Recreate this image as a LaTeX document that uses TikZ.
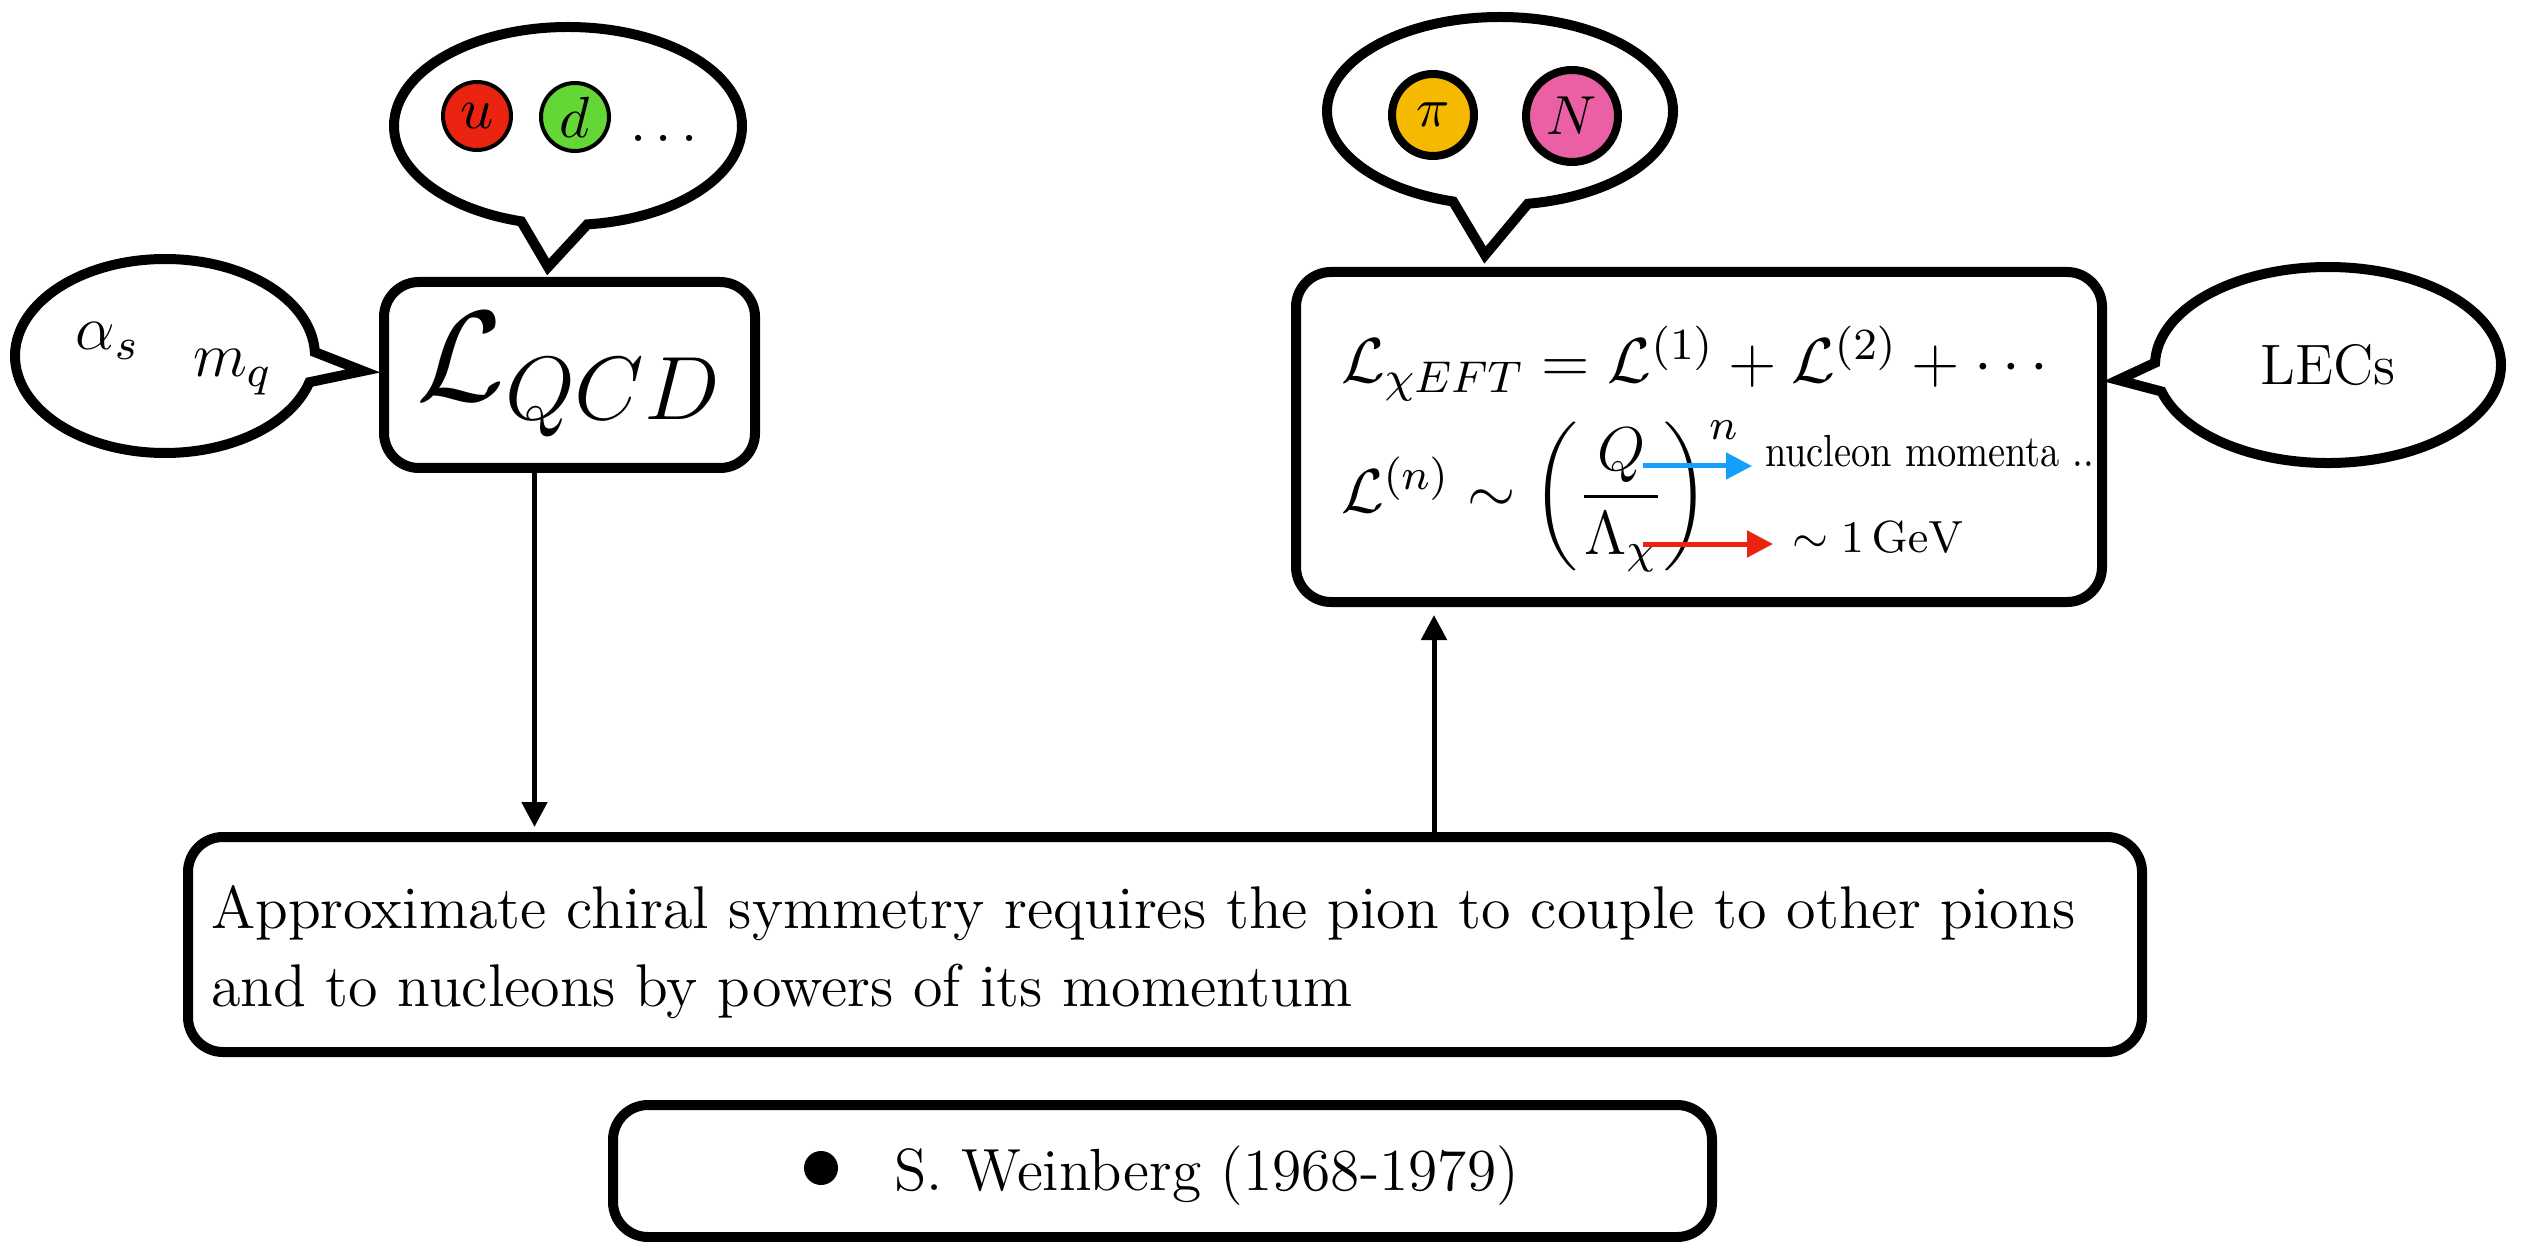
\documentclass[tikz,border=0pt]{standalone}
\usepackage{fix-cm}
\usepackage{amsmath, amssymb}
\usepackage{tikz}
\usetikzlibrary{shapes.callouts, arrows.meta}

\definecolor{quarkred}{RGB}{235,36,17}
\definecolor{quarkgreen}{RGB}{100,215,55}
\definecolor{pionorange}{RGB}{245,185,0}
\definecolor{nucleonpink}{RGB}{235,95,165}
\definecolor{momblue}{RGB}{20,160,250}

\begin{document}
\begin{tikzpicture}[x=1pt,y=1pt,yscale=-1,
    roundbox/.style={draw, line width=2pt, rounded corners=7pt, inner sep=0pt},
    bubble/.style={ellipse callout, draw, line width=2pt, inner sep=0pt},
    blob/.style={circle, draw, line width=0.8pt, inner sep=0pt},
    fatblob/.style={blob, line width=1.6pt},
    flow/.style={line width=1pt, -{Triangle[length=5pt,width=5pt]}},
    fat/.style={line width=1pt, -{Triangle[length=5.2pt,width=5.2pt]}},
    txt/.style={inner sep=0pt, anchor=base west}]
\useasboundingbox (0,0) rectangle (505,248.4);

%Rounded Rect
\node[roundbox, minimum width=74.2pt, minimum height=37.2pt, font=\fontsize{25.7}{30}\selectfont] (qcd) at (113.9,75) {$\mathcal{L}_{QCD}$};
%Rounded Rect
\node[roundbox, minimum width=161.2pt, minimum height=66pt] (eft) at (339.8,87.4) {};
%Rounded Rect
\node[roundbox, minimum width=390.8pt, minimum height=43pt] (sym) at (233,188.9) {};
%Rounded Rect
\node[roundbox, minimum width=219.8pt, minimum height=26.4pt] (ref) at (232.5,234.2) {};

%Callouts
\coordinate (qcdtip) at (109.6,53.4);
\node[bubble, minimum width=69.6pt, minimum height=39.6pt, callout absolute pointer=(qcdtip), callout pointer arc=22] (quarks) at (113.6,25.2) {};
\coordinate (lagtip) at (72.6,74.2);
\node[bubble, minimum width=60pt, minimum height=38.8pt, callout absolute pointer=(lagtip), callout pointer arc=18] (params) at (33,71.2) {};
\coordinate (efttip) at (297,51);
\node[bubble, minimum width=69.2pt, minimum height=37.6pt, callout absolute pointer=(efttip), callout pointer arc=25] (dof) at (300,22.2) {};
\coordinate (lectip) at (423.6,76);
\node[bubble, minimum width=69.2pt, minimum height=39.2pt, callout absolute pointer=(lectip), callout pointer arc=17, font=\fontsize{11.4}{14}\selectfont] (lecs) at (465.6,73) {LECs};

% Text Node
\node[blob, fill=quarkred, minimum size=13.6pt, font=\fontsize{11.6}{14}\selectfont] (up) at (95.4,23.2) {$u$};
\node[blob, fill=quarkgreen, minimum size=13.6pt, font=\fontsize{11.6}{14}\selectfont] (down) at (115,23.4) {$d$};
\node[txt, font=\fontsize{11.6}{14}\selectfont] (more) at (125.8,28.4) {$\ldots$};
% Text Node
\node[txt, font=\fontsize{12.6}{15}\selectfont] (alpha) at (15,70) {$\alpha_s$};
\node[txt, font=\fontsize{12.6}{15}\selectfont] (mass) at (38.4,75.4) {$m_q$};
% Text Node
\node[fatblob, fill=pionorange, minimum size=16.4pt, font=\fontsize{11}{13}\selectfont] (pion) at (286.6,23) {$\pi$};
\node[fatblob, fill=nucleonpink, minimum size=18.4pt, font=\fontsize{11}{13}\selectfont] (nucleon) at (314.4,23.2) {$N$};

% Text Node
\node[txt, font=\fontsize{12.7}{15}\selectfont] (eftsum) at (268,76.6) {$\mathcal{L}_{\chi EFT} = \mathcal{L}^{(1)} + \mathcal{L}^{(2)} + \cdots$};
\node[txt, font=\fontsize{12.4}{15}\selectfont] (eftpow) at (268,102.4) {$\mathcal{L}^{(n)} \sim \left(\dfrac{Q}{\Lambda_{\chi}}\right)^{n}$};
\node[txt, font=\fontsize{10}{12}\selectfont] (mom) at (352.8,93.4) {\scalebox{0.77}[0.9]{nucleon momenta ..}};
\node[txt, font=\fontsize{9}{11}\selectfont] (gev) at (358.2,110.4) {$\sim 1\,\mathrm{GeV}$};

%Straight Lines
\coordinate (qend) at (328.6,93.2);
\coordinate (lend) at (328.6,108.8);
\draw[fat, momblue, shorten >=2.4pt] (qend) -- (qend -| mom.west);
\draw[fat, quarkred, shorten >=3.6pt] (lend) -- (lend -| gev.west);

% Text Node
\node[txt, font=\fontsize{12.05}{15.6}\selectfont] (symone) at (42,185.6) {Approximate chiral symmetry requires the pion to couple to other pions};
\node[txt, font=\fontsize{12.05}{15.6}\selectfont] (symtwo) at (42,201.2) {and to nucleons by powers of its momentum};
% Text Node
\node[circle, fill, minimum size=6.8pt, inner sep=0pt] (dot) at (164.2,233.6) {};
\node[txt, font=\fontsize{11.9}{14}\selectfont] (weinberg) at (178.6,238) {S. Weinberg (1968-1979)};

%Straight Lines
\coordinate (qcdout) at ([xshift=-7pt]qcd.south);
\draw[flow, shorten >=1pt] (qcdout) -- (qcdout |- sym.north);
\coordinate (eftin) at ([xshift=-53pt]eft.south);
\draw[flow, shorten >=1.6pt] (eftin |- sym.north) -- (eftin);
\end{tikzpicture}
\end{document}
